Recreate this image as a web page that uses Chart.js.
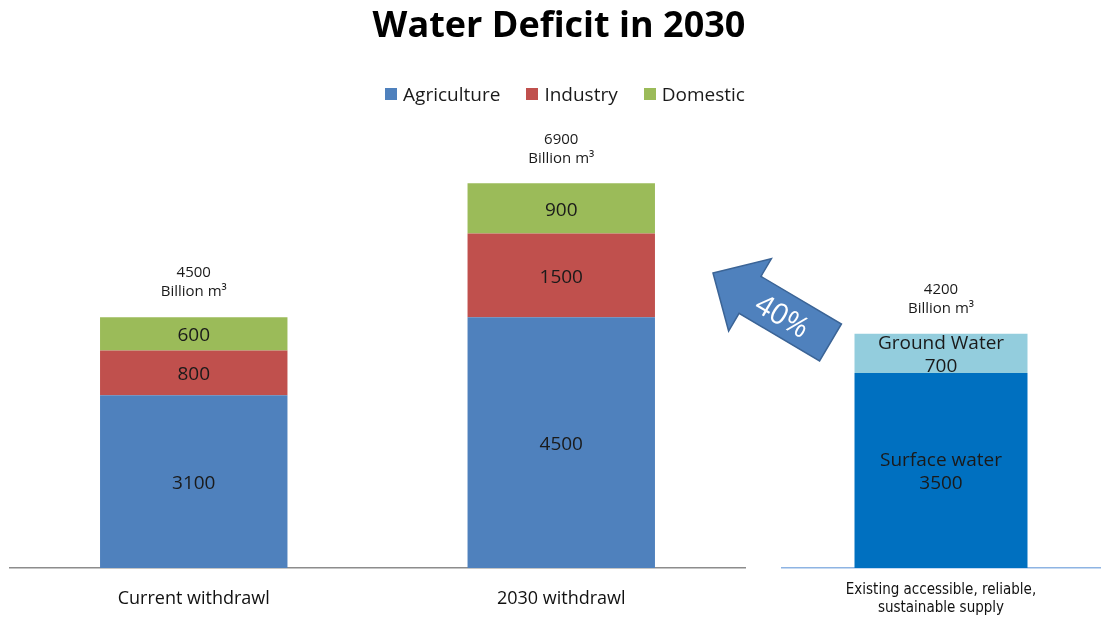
<!DOCTYPE html>
<html>
<head>
<meta charset="utf-8">
<title>Water Deficit in 2030</title>
<script src="https://cdn.jsdelivr.net/npm/chart.js@4.4.1/dist/chart.umd.min.js"></script>
<style>
  html, body { margin: 0; padding: 0; background: #fff; }
  #wrap { position: relative; width: 1104px; height: 620px; overflow: hidden; font-family: "Open Sans", sans-serif; }
  #wrap canvas { position: absolute; left: 0; top: 0; }
  #title { position: absolute; left: 0; width: 1118px; top: 6px; text-align: center; font-weight: 700; font-size: 36px; line-height: 1; color: #000; }
  #legend { position: absolute; left: 0; width: 1130px; top: 84px; display: flex; justify-content: center; gap: 26px; font-size: 19px; line-height: 20px; color: #1a1a1a; }
  #legend .item { display: flex; align-items: center; }
  #legend .swatch { width: 12px; height: 12px; margin-right: 6px; }
  #arrow { position: absolute; left: 0; top: 0; }
</style>
</head>
<body>
<div id="wrap">
  <canvas id="demand" width="1104" height="620"></canvas>
  <canvas id="supply" width="1104" height="620"></canvas>
  <svg id="arrow" width="1104" height="620"></svg>
  <div id="title">Water Deficit in 2030</div>
  <div id="legend"></div>
</div>
<script>
// Withdrawal by sector, billion m³
const categories = ['Current withdrawl', '2030 withdrawl'];
const agriculture = [3100, 4500];
const industry = [800, 1500];
const domestic = [600, 900];

// Existing supply, billion m³
const supplyCategory = [['Existing accessible, reliable,', 'sustainable supply']];
const surfaceWater = [3500];
const groundWater = [700];

const unitLabel = 'Billion m³';
const deficitLabel = '40%';

const sectorSeries = [
  { label: 'Agriculture', data: agriculture, color: '#4f81bd' },
  { label: 'Industry', data: industry, color: '#c0504d' },
  { label: 'Domestic', data: domestic, color: '#9bbb59' }
];

// Legend
const legendEl = document.getElementById('legend');
sectorSeries.forEach(s => {
  const item = document.createElement('div');
  item.className = 'item';
  const sw = document.createElement('span');
  sw.className = 'swatch';
  sw.style.background = s.color;
  const tx = document.createElement('span');
  tx.textContent = s.label;
  item.appendChild(sw);
  item.appendChild(tx);
  legendEl.appendChild(item);
});

// Writes each segment's value inside the bar and the stack total above it
const segmentLabels = {
  id: 'segmentLabels',
  afterDatasetsDraw(chart) {
    const ctx = chart.ctx;
    const sets = chart.data.datasets;
    ctx.save();
    ctx.textAlign = 'center';
    ctx.textBaseline = 'middle';
    ctx.fillStyle = '#1a1a1a';
    sets.forEach((ds, i) => {
      chart.getDatasetMeta(i).data.forEach((bar, j) => {
        const v = ds.data[j];
        const lines = ds.segmentName ? [ds.segmentName, String(v)] : [String(v)];
        ctx.font = '19px "Open Sans"';
        const cy = (bar.y + bar.base) / 2 + 2;
        const lh = 23;
        lines.forEach((t, k) => ctx.fillText(t, bar.x, cy + (k - (lines.length - 1) / 2) * lh));
      });
    });
    const topMeta = chart.getDatasetMeta(sets.length - 1);
    topMeta.data.forEach((bar, j) => {
      const total = sets.reduce((s, d) => s + d.data[j], 0);
      ctx.font = '15px "Open Sans"';
      ctx.fillText(String(total), bar.x, bar.y - 44);
      ctx.fillText(unitLabel, bar.x, bar.y - 25);
    });
    ctx.restore();
  }
};

const commonPlugins = { legend: { display: false }, tooltip: { enabled: false } };

new Chart(document.getElementById('demand'), {
  type: 'bar',
  data: {
    labels: categories,
    datasets: sectorSeries.map(s => ({
      label: s.label, data: s.data, backgroundColor: s.color,
      borderWidth: 0, barPercentage: 1, categoryPercentage: 0.51
    }))
  },
  options: {
    responsive: false, animation: false,
    layout: { padding: { left: 10, right: 359, top: 122, bottom: 0 } },
    plugins: commonPlugins,
    scales: {
      x: {
        stacked: true,
        grid: { display: false, drawTicks: false },
        border: { display: true, color: '#8c8c8c', width: 1.5 },
        ticks: { font: { family: 'Open Sans', size: 18 }, color: '#111', padding: 20 },
        afterFit(scale) { scale.height = 52; }
      },
      y: { stacked: true, display: false, min: 0, max: 8000 }
    }
  },
  plugins: [segmentLabels]
});

new Chart(document.getElementById('supply'), {
  type: 'bar',
  data: {
    labels: supplyCategory,
    datasets: [
      { label: 'Surface water', segmentName: 'Surface water', data: surfaceWater, backgroundColor: '#0070c0',
        borderWidth: 0, barPercentage: 1, categoryPercentage: 0.544 },
      { label: 'Ground Water', segmentName: 'Ground Water', data: groundWater, backgroundColor: '#93cddd',
        borderWidth: 0, barPercentage: 1, categoryPercentage: 0.544 }
    ]
  },
  options: {
    responsive: false, animation: false,
    layout: { padding: { left: 782, right: 4, top: 122, bottom: 0 } },
    plugins: commonPlugins,
    scales: {
      x: {
        stacked: true,
        grid: { display: false, drawTicks: false },
        border: { display: true, color: '#8eb4e3', width: 1.5 },
        ticks: { font: { family: '"Liberation Sans Narrow", "DejaVu Sans Condensed", sans-serif', size: 15, lineHeight: 1.2 }, color: '#111', padding: 13 },
        afterFit(scale) { scale.height = 52; }
      },
      y: { stacked: true, display: false, min: 0, max: 8000 }
    }
  },
  plugins: [segmentLabels]
});

// Block arrow from the supply bar toward the 2030 demand, labelled with the gap
(function drawArrow() {
  const svg = document.getElementById('arrow');
  const NS = 'http://www.w3.org/2000/svg';
  const tail = { x: 830.5, y: 342.5 };
  const tip = { x: 713, y: 273 };
  const shaftHalf = 21.5, headHalf = 42, headLen = 43;
  const dx = tip.x - tail.x, dy = tip.y - tail.y;
  const len = Math.hypot(dx, dy);
  const ux = dx / len, uy = dy / len;
  const nx = -uy, ny = ux;
  const bx = tip.x - ux * headLen, by = tip.y - uy * headLen;
  const pts = [
    [tip.x, tip.y],
    [bx + nx * headHalf, by + ny * headHalf],
    [bx + nx * shaftHalf, by + ny * shaftHalf],
    [tail.x + nx * shaftHalf, tail.y + ny * shaftHalf],
    [tail.x - nx * shaftHalf, tail.y - ny * shaftHalf],
    [bx - nx * shaftHalf, by - ny * shaftHalf],
    [bx - nx * headHalf, by - ny * headHalf]
  ];
  const poly = document.createElementNS(NS, 'polygon');
  poly.setAttribute('points', pts.map(p => p.join(',')).join(' '));
  poly.setAttribute('fill', '#4f81bd');
  poly.setAttribute('stroke', '#3b6496');
  poly.setAttribute('stroke-width', '1.5');
  svg.appendChild(poly);

  const angle = Math.atan2(-dy, -dx) * 180 / Math.PI;
  const cx = tail.x + ux * 55, cy = tail.y + uy * 55;
  const txt = document.createElementNS(NS, 'text');
  txt.setAttribute('x', cx);
  txt.setAttribute('y', cy);
  txt.setAttribute('text-anchor', 'middle');
  txt.setAttribute('dominant-baseline', 'central');
  txt.setAttribute('font-family', 'Open Sans');
  txt.setAttribute('font-size', '29');
  txt.setAttribute('fill', '#fff');
  txt.setAttribute('transform', `rotate(${angle} ${cx} ${cy})`);
  txt.textContent = deficitLabel;
  svg.appendChild(txt);
})();
</script>
</body>
</html>
